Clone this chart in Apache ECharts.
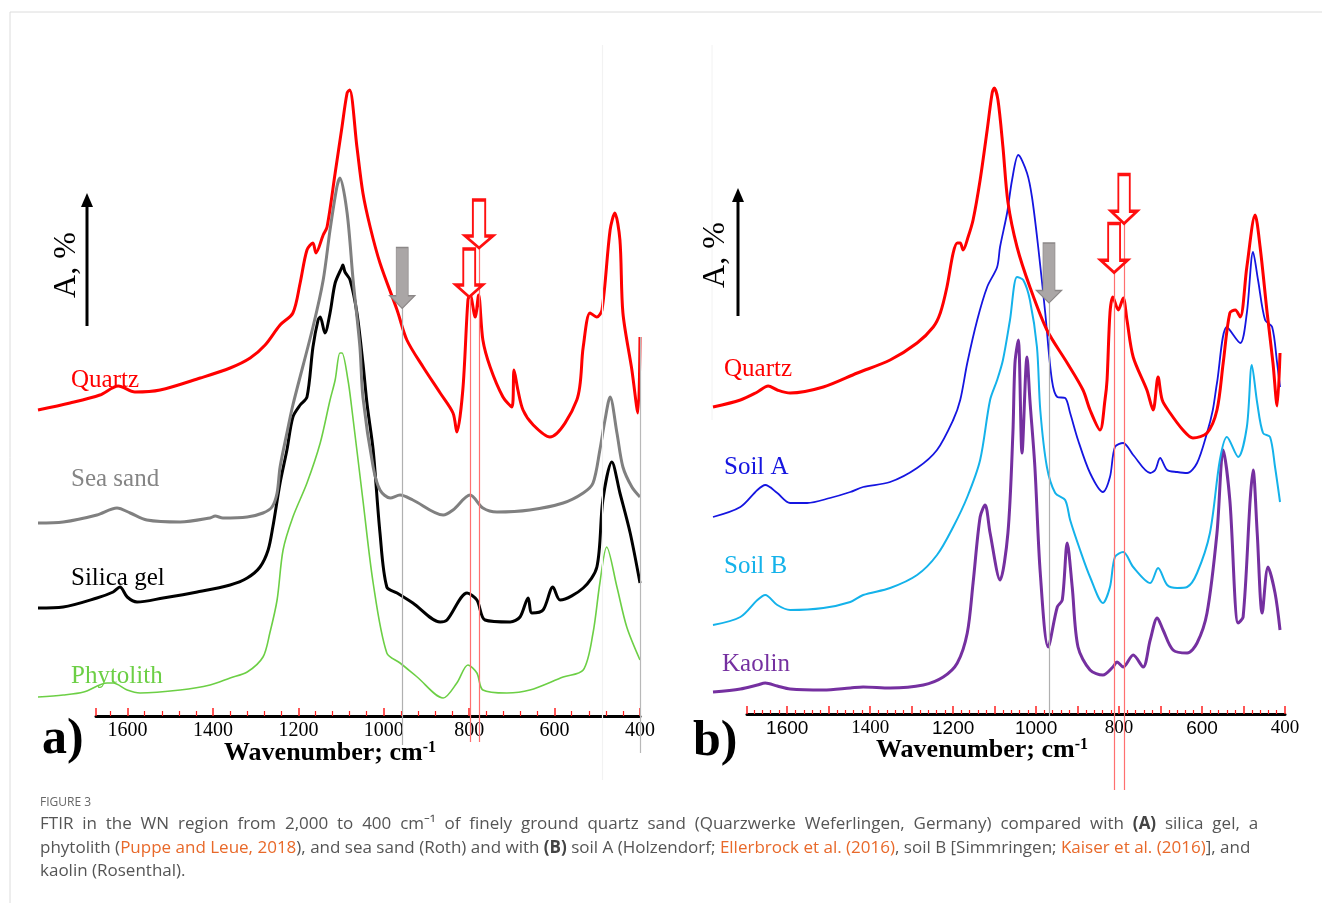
<!DOCTYPE html>
<html lang="en">
<head>
    <meta charset="UTF-8">
    <title>FTIR spectra</title>
    <script src="https://cdn.jsdelivr.net/npm/echarts@6/dist/echarts.min.js"></script>
    <style>
        html, body { margin: 0; height: 100%; background: #fff; }
        #main { width: 1322px; height: 903px; }
    </style>
</head>
<body>
    <div id="main"></div>
    <script type="text/javascript">
        // spectra: [wavenumber cm-1, absorbance (arb. units, offset stacked)]
        const quartzA = [[1810,306],[1735,313],[1665,321],[1622,330],[1583,324],[1524,326],[1430,338],[1360,348],[1313,358],[1278,371],[1243,391],[1213,403],[1196,433],[1180,466],[1166,473],[1159,463],[1142,481],[1133,489],[1114,543],[1098,589],[1086,623],[1080,626],[1063,569],[1049,523],[1032,489],[1009,453],[969,406],[946,376],[908,349],[868,323],[838,303],[829,284],[815,326],[803,416],[798,421],[786,399],[778,421],[768,376],[751,349],[721,319],[700,309],[695,346],[686,326],[674,306],[650,291],[611,279],[548,316],[533,369],[517,403],[501,399],[489,406],[470,486],[459,503],[447,476],[440,403],[419,346],[405,303],[400,379]];
        const seaSandA = [[1810,193],[1751,194],[1672,201],[1625,208],[1594,203],[1555,196],[1477,194],[1407,198],[1395,200],[1377,198],[1320,199],[1283,203],[1262,209],[1250,223],[1243,249],[1227,283],[1213,311],[1166,389],[1142,436],[1126,486],[1110,529],[1103,538],[1086,503],[1072,436],[1056,369],[1049,319],[1025,249],[1009,226],[985,218],[962,221],[932,216],[861,201],[838,206],[798,221],[768,208],[735,204],[658,206],[580,213],[533,223],[510,233],[494,266],[482,296],[470,319],[454,283],[440,249],[419,229],[400,219]];
        const silicaGelA = [[1810,108],[1751,109],[1672,118],[1634,124],[1618,129],[1601,119],[1578,114],[1517,118],[1437,124],[1360,131],[1320,138],[1290,149],[1271,166],[1260,189],[1243,233],[1227,266],[1213,299],[1196,311],[1180,319],[1166,369],[1154,396],[1149,399],[1138,383],[1126,403],[1114,433],[1098,449],[1096,451],[1091,444],[1079,436],[1063,403],[1049,353],[1039,311],[1025,266],[1009,183],[993,129],[969,123],[932,113],[868,94],[852,96],[805,123],[782,116],[763,96],[704,94],[681,99],[662,118],[653,103],[627,106],[604,129],[587,116],[533,128],[501,149],[487,216],[466,254],[447,223],[423,183],[400,133]];
        const phytolithA = [[1810,19],[1751,21],[1703,24],[1648,33],[1634,33],[1601,26],[1571,23],[1477,26],[1407,31],[1360,38],[1320,44],[1283,59],[1267,83],[1250,116],[1236,166],[1213,199],[1180,233],[1149,273],[1126,316],[1114,336],[1103,363],[1098,363],[1084,336],[1076,311],[1049,216],[1025,133],[993,63],[962,53],[922,39],[861,18],[829,33],[803,51],[782,43],[768,26],[712,23],[658,26],[580,39],[533,46],[510,83],[494,133],[478,169],[454,129],[431,89],[400,56]];

        const quartzB = [[1779,309],[1713,316],[1672,324],[1646,330],[1624,326],[1593,323],[1513,329],[1431,343],[1352,356],[1287,373],[1248,389],[1231,403],[1215,429],[1200,463],[1190,473],[1183,473],[1176,466],[1164,479],[1152,496],[1135,536],[1118,586],[1106,623],[1101,628],[1092,616],[1080,569],[1068,514],[1046,469],[1015,429],[974,386],[925,353],[887,326],[870,306],[846,286],[834,316],[829,336],[822,403],[815,419],[802,406],[790,418],[781,396],[766,359],[733,326],[718,306],[706,339],[696,316],[677,303],[646,286],[622,278],[588,283],[564,306],[549,353],[533,403],[520,406],[508,399],[492,449],[472,501],[460,469],[443,403],[429,353],[419,310],[412,363]];
        const soilA = [[1779,199],[1713,209],[1672,226],[1653,231],[1624,223],[1593,213],[1552,213],[1497,218],[1448,224],[1417,229],[1352,234],[1287,248],[1239,266],[1200,296],[1183,316],[1166,353],[1142,396],[1118,429],[1094,449],[1087,469],[1070,503],[1058,536],[1043,561],[1022,543],[1010,519],[995,469],[978,403],[962,336],[949,319],[930,318],[918,303],[899,276],[870,243],[839,224],[822,239],[810,269],[790,273],[766,261],[725,243],[713,246],[701,258],[684,246],[660,244],[636,243],[612,253],[588,283],[574,306],[564,333],[540,389],[508,373],[492,403],[477,464],[465,436],[448,396],[431,389],[419,353],[412,329]];
        const soilB = [[1779,91],[1713,99],[1672,116],[1653,121],[1624,111],[1593,106],[1513,108],[1448,114],[1417,121],[1352,128],[1287,141],[1239,161],[1200,189],[1166,219],[1135,256],[1111,316],[1094,336],[1080,356],[1063,396],[1046,439],[1031,436],[1015,416],[998,369],[990,306],[974,249],[954,223],[930,216],[918,196],[894,166],[870,139],[839,113],[822,129],[810,159],[790,164],[766,149],[725,133],[706,148],[684,131],[660,128],[636,129],[612,143],[581,183],[557,256],[540,279],[513,259],[492,289],[480,351],[467,313],[453,283],[436,279],[424,249],[412,214]];
        const kaolin = [[1779,24],[1713,27],[1672,31],[1653,33],[1624,30],[1593,27],[1513,26],[1448,28],[1417,29],[1352,28],[1272,31],[1224,39],[1190,53],[1166,83],[1152,133],[1135,199],[1123,211],[1111,183],[1087,136],[1068,183],[1056,283],[1051,353],[1043,376],[1034,263],[1022,359],[1015,316],[1003,249],[990,143],[971,69],[949,109],[937,116],[925,173],[913,129],[899,69],[870,46],[839,41],[815,49],[805,54],[790,49],[766,61],[742,49],[725,76],[708,98],[694,86],[670,66],[636,63],[612,73],[588,103],[564,183],[549,266],[533,216],[513,93],[501,99],[484,216],[477,246],[467,183],[455,103],[441,149],[424,123],[412,86]];

        // reference lines: [wavenumber, top, bottom, colour]
        const guidesA = [[957,408,-29,'#b0b0b0'],[798,419,-26,'#ff7070'],[777,468,-26,'#ff7070'],[489,671,-64,'#f2f2f2'],[400,379,-37,'#b8b8b8']];
        const guidesB = [[969,413,0,'#b0b0b0'],[812,444,-74,'#ff7070'],[788,493,-74,'#ff7070']];
        // arrows: [wavenumber, centre value, width, height, kind]
        const arrowsA = [[957,438,25,61,'gray'],[777,492,28,48,'red'],[800,443,27,48,'red']];
        const arrowsB = [[969,443,25,60,'gray'],[788,517,26,49,'red'],[812,468,27,49,'red']];

        const serif = "'Liberation Serif', 'Times New Roman', serif";
        const sans = "'Liberation Sans', Arial, sans-serif";
        const capFont = "'Open Sans', 'Noto Sans', sans-serif";
        const sansTicks = [1600, 1200, 1000, 600];

        const grayArrow = 'path://M26,0 L74,0 L74,79 L100,79 L50,100 L0,79 L26,79 Z';
        const redArrow = 'path://M28,0 L72,0 L72,75 L100,75 L50,100 L0,75 L28,75 Z';

        const myChart = echarts.init(document.getElementById('main'));

        const makeLine = (data, color, width, gi, extra) => Object.assign({
            type: 'line',
            data: data,
            xAxisIndex: gi,
            yAxisIndex: gi,
            showSymbol: false,
            smooth: 0.3,
            clip: false,
            silent: true,
            lineStyle: { color: color, width: width },
            itemStyle: { color: color },
            z: 3
        }, extra || {});

        const markers = (guides, arrows) => ({
            markLine: {
                silent: true,
                symbol: ['none', 'none'],
                label: { show: false },
                data: guides.map(g => [
                    { coord: [g[0], g[1]], lineStyle: { color: g[3], width: 1.2, type: 'solid' } },
                    { coord: [g[0], g[2]] }
                ])
            },
            markPoint: {
                silent: true,
                label: { show: false },
                data: arrows.map(a => ({
                    coord: [a[0], a[1]],
                    symbol: a[4] === 'gray' ? grayArrow : redArrow,
                    symbolSize: [a[2], a[3]],
                    symbolKeepAspect: false,
                    itemStyle: a[4] === 'gray'
                        ? { color: '#aaa6a6', borderColor: '#8c8888', borderWidth: 1 }
                        : { color: '#ffffff', borderColor: '#ff1010', borderWidth: 2.5 }
                }))
            }
        });

        // hidden axes carrying the data
        const dataX = (gi, max) => ({
            type: 'value', gridIndex: gi, inverse: true, min: 400, max: max, show: false
        });
        const hiddenY = (gi, min, max) => ({
            type: 'value', gridIndex: gi, min: min, max: max, show: false
        });

        // visible wavenumber axes (same scale, shorter span)
        const tickAxis = (gi, max, interval, minorLen, labelFn, rich) => ({
            type: 'value',
            gridIndex: gi,
            inverse: true,
            min: 400,
            max: max,
            interval: interval,
            position: 'bottom',
            splitLine: { show: false },
            axisLine: { onZero: false, lineStyle: { color: '#000', width: 3 } },
            axisTick: { inside: true, length: 8, lineStyle: { color: '#ff2020', width: 1.5 } },
            minorTick: { show: true, splitNumber: 5, length: minorLen, lineStyle: { color: '#ff2020', width: 1.2 } },
            axisLabel: { margin: 5, formatter: labelFn, rich: rich }
        });

        const textEl = (x, y, text, font, fill, extra) => Object.assign({
            type: 'text', x: x, y: y, z: 10,
            style: { text: text, font: font, fill: fill, textVerticalAlign: 'middle' }
        }, extra || {});

        const yLabel = (x, y) => ({
            type: 'text', x: x, y: y, z: 10, rotation: Math.PI / 2,
            style: { text: 'A, %', font: '32px ' + serif, fill: '#000', textAlign: 'center', textVerticalAlign: 'middle' }
        });

        const capLine = (y, text) => ({
            type: 'text', x: 40, y: y, z: 10,
            style: {
                text: text,
                font: '17px ' + capFont,
                fill: '#555',
                textVerticalAlign: 'middle',
                rich: {
                    b: { fontWeight: 'bold', fontSize: 17, fontFamily: capFont, fill: '#444' },
                    o: { fontSize: 17, fontFamily: capFont, fill: '#e8692a' }
                }
            }
        });

        const axisName = (x, y) => ({
            type: 'text', x: x, y: y, z: 10,
            style: {
                text: '{w|Wavenumber; cm}{s|-1}',
                textAlign: 'center',
                textVerticalAlign: 'middle',
                rich: {
                    w: { fontFamily: serif, fontWeight: 'bold', fontSize: 26, fill: '#000' },
                    s: { fontFamily: serif, fontWeight: 'bold', fontSize: 16, fill: '#000', verticalAlign: 'top' }
                }
            }
        });

        // caption text; first line is justified in the source, so its word gaps are widened
        const caption1 = 'FTIR in the WN region from 2,000 to 400 cm\u207B\u00B9 of finely ground quartz sand (Quarzwerke Weferlingen, Germany) compared with {b|(A)} silica gel, a';
        const caption2 = 'phytolith ({o|Puppe and Leue, 2018}), and sea sand (Roth) and with {b|(B)} soil A (Holzendorf; {o|Ellerbrock et al. (2016)}, soil B [Simmringen; {o|Kaiser et al. (2016)}], and';
        const caption3 = 'kaolin (Rosenthal).';

        myChart.setOption({
            animation: false,
            backgroundColor: '#fff',
            grid: [
                { left: 38, right: 682, top: 36, bottom: 97 },
                { left: 96, right: 682, top: 700, bottom: 187 },
                { left: 713, right: 37, top: 36, bottom: 97 },
                { left: 747, right: 37, top: 700, bottom: 189 }
            ],
            xAxis: [
                dataX(0, 1810),
                tickAxis(1, 1674, 200, 5,
                    v => v % 200 === 0 ? '{t|' + v + '}' : '',
                    { t: { fontFamily: serif, fontSize: 20, color: '#000' } }),
                dataX(2, 1779),
                tickAxis(3, 1697, 100, 4,
                    v => v % 200 !== 0 ? '' : (sansTicks.indexOf(v) >= 0 ? '{a|' + v + '}' : '{t|' + v + '}'),
                    {
                        a: { fontFamily: sans, fontSize: 19, color: '#000' },
                        t: { fontFamily: serif, fontSize: 19, color: '#000' }
                    })
            ],
            yAxis: [
                hiddenY(0, -90, 680),
                hiddenY(1, 0, 1),
                hiddenY(2, -90, 680),
                hiddenY(3, 0, 1)
            ],
            series: [
                makeLine(phytolithA, '#6ccf45', 1.6, 0),
                makeLine(silicaGelA, '#000000', 3, 0),
                makeLine(seaSandA, '#808080', 3, 0),
                makeLine(quartzA, '#ff0000', 3, 0, markers(guidesA, arrowsA)),
                makeLine(kaolin, '#7530a0', 3, 2),
                makeLine(soilB, '#14b2ea', 2, 2),
                makeLine(soilA, '#1515e0', 1.8, 2),
                makeLine(quartzB, '#ff0000', 3, 2, markers(guidesB, arrowsB))
            ],
            graphic: [
                // figure frame
                { type: 'line', shape: { x1: 10, y1: 12, x2: 1322, y2: 12 }, style: { stroke: '#dcdcdc', lineWidth: 1 } },
                { type: 'line', shape: { x1: 10, y1: 12, x2: 10, y2: 903 }, style: { stroke: '#dcdcdc', lineWidth: 1 } },
                { type: 'line', shape: { x1: 712, y1: 45, x2: 712, y2: 420 }, style: { stroke: '#f2f2f2', lineWidth: 1 } },

                // y-direction arrows
                { type: 'line', shape: { x1: 87, y1: 326, x2: 87, y2: 205 }, style: { stroke: '#000', lineWidth: 3 } },
                { type: 'polygon', shape: { points: [[81, 207], [93, 207], [87, 193]] }, style: { fill: '#000' } },
                yLabel(67, 265),
                { type: 'line', shape: { x1: 738, y1: 316, x2: 738, y2: 200 }, style: { stroke: '#000', lineWidth: 3 } },
                { type: 'polygon', shape: { points: [[732, 202], [744, 202], [738, 188]] }, style: { fill: '#000' } },
                yLabel(716, 255),

                // curve labels
                textEl(71, 380, 'Quartz', '25px ' + serif, '#ff0000'),
                textEl(71, 479, 'Sea sand', '25px ' + serif, '#858585'),
                textEl(71, 578, 'Silica gel', '25px ' + serif, '#000'),
                textEl(71, 676, 'Phytolith', '25px ' + serif, '#6ccf45'),
                textEl(724, 369, 'Quartz', '25px ' + serif, '#ff0000'),
                textEl(724, 467, 'Soil A', '25px ' + serif, '#1515e0'),
                textEl(724, 566, 'Soil B', '25px ' + serif, '#14b2ea'),
                textEl(722, 664, 'Kaolin', '25px ' + serif, '#7530a0'),

                // panel letters and axis names
                textEl(42, 740, 'a)', 'bold 50px ' + serif, '#000'),
                textEl(693, 742, 'b)', 'bold 50px ' + serif, '#000'),
                axisName(330, 753),
                axisName(982, 750),

                // caption
                textEl(40, 803, 'FIGURE 3', '12px ' + capFont, '#666'),
                capLine(824, caption1.split(' ').join('  ')),
                capLine(848, caption2),
                capLine(871, caption3)
            ]
        });
    </script>
</body>
</html>
